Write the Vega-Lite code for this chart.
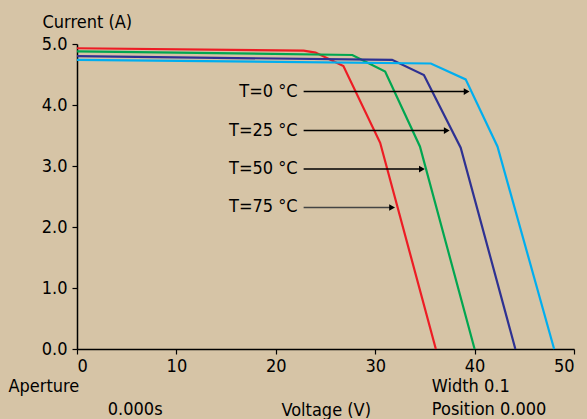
{
  "$schema": "https://vega.github.io/schema/vega-lite/v6.json",
  "width": 497,
  "height": 305,
  "autosize": "none",
  "padding": {"left": 77, "top": 44, "right": 13, "bottom": 70},
  "background": "#d6c4a6",
  "config": {
    "view": {"stroke": null},
    "font": "DejaVu Sans Condensed",
    "axis": {"domainColor": "#000", "tickColor": "#000", "domainWidth": 1.5, "tickWidth": 1.2, "tickSize": 5, "labelColor": "#000", "labelFontSize": 18, "titleFontSize": 18, "titleFontWeight": "normal", "titleColor": "#000", "grid": false, "labelFont": "DejaVu Sans Condensed", "titleFont": "DejaVu Sans Condensed"}
  },
  "datasets": {
    "curves": [
      {"T": "T=75 °C", "V": 0, "I": 4.93}, {"T": "T=75 °C", "V": 22.8, "I": 4.89}, {"T": "T=75 °C", "V": 24.0, "I": 4.86}, {"T": "T=75 °C", "V": 26.8, "I": 4.64}, {"T": "T=75 °C", "V": 30.5, "I": 3.38}, {"T": "T=75 °C", "V": 36.1, "I": 0},
      {"T": "T=50 °C", "V": 0, "I": 4.88}, {"T": "T=50 °C", "V": 27.7, "I": 4.82}, {"T": "T=50 °C", "V": 31.0, "I": 4.55}, {"T": "T=50 °C", "V": 34.5, "I": 3.32}, {"T": "T=50 °C", "V": 40.0, "I": 0},
      {"T": "T=25 °C", "V": 0, "I": 4.80}, {"T": "T=25 °C", "V": 31.7, "I": 4.74}, {"T": "T=25 °C", "V": 34.9, "I": 4.49}, {"T": "T=25 °C", "V": 38.6, "I": 3.30}, {"T": "T=25 °C", "V": 44.1, "I": 0},
      {"T": "T=0 °C", "V": 0, "I": 4.74}, {"T": "T=0 °C", "V": 35.6, "I": 4.68}, {"T": "T=0 °C", "V": 39.1, "I": 4.42}, {"T": "T=0 °C", "V": 42.3, "I": 3.32}, {"T": "T=0 °C", "V": 48.0, "I": 0}
    ],
    "notes": [
      {"label": "T=0 °C", "I": 4.22, "x0": 22.8, "x1": 39.2, "tx": 22.2},
      {"label": "T=25 °C", "I": 3.58, "x0": 22.8, "x1": 37.2, "tx": 22.2},
      {"label": "T=50 °C", "I": 2.95, "x0": 22.8, "x1": 34.7, "tx": 22.2},
      {"label": "T=75 °C", "I": 2.32, "x0": 22.8, "x1": 31.7, "tx": 22.2}
    ],
    "footer": [
      {"text": "Aperture", "V": -6.9, "I": -0.62},
      {"text": "Width 0.1", "V": 35.7, "I": -0.62},
      {"text": "0.000s", "V": 3.1, "I": -1.0},
      {"text": "Position 0.000", "V": 35.7, "I": -1.0}
    ]
  },
  "layer": [
    {
      "data": {"name": "curves"},
      "mark": {"type": "line", "strokeWidth": 2.2, "clip": false},
      "encoding": {
        "x": {"field": "V", "type": "quantitative", "scale": {"domain": [0, 50], "nice": false}, "axis": {"values": [0, 10, 20, 30, 40, 50], "title": "Voltage (V)", "titleAlign": "left", "titleAnchor": "start", "titleX": 204, "titleY": 61, "titleBaseline": "middle", "labelPadding": 3}},
        "y": {"field": "I", "type": "quantitative", "scale": {"domain": [0, 5], "nice": false}, "axis": {"values": [0, 1, 2, 3, 4, 5], "format": ".1f", "title": "Current (A)", "titleAngle": 0, "titleAlign": "left", "titleAnchor": "start", "titleX": -35, "titleY": -17, "titleBaseline": "alphabetic", "labelPadding": 5}},
        "color": {"field": "T", "type": "nominal", "scale": {"domain": ["T=75 °C", "T=50 °C", "T=25 °C", "T=0 °C"], "range": ["#ed1c24", "#00a650", "#2e3192", "#00aeef"]}, "legend": null},
        "order": {"field": "V", "type": "quantitative"}
      }
    },
    {
      "data": {"name": "notes"},
      "mark": {"type": "rule", "strokeWidth": 1.5},
      "encoding": {
        "x": {"field": "x0", "type": "quantitative"},
        "x2": {"field": "x1"},
        "y": {"field": "I", "type": "quantitative"},
        "color": {"condition": {"test": "datum.label === 'T=75 °C'", "value": "#444444"}, "value": "#000000"}
      }
    },
    {
      "data": {"name": "notes"},
      "mark": {"type": "point", "shape": "triangle-right", "filled": true, "size": 45, "opacity": 1},
      "encoding": {
        "x": {"field": "x1", "type": "quantitative"},
        "y": {"field": "I", "type": "quantitative"},
        "color": {"value": "#000000"}
      }
    },
    {
      "data": {"name": "notes"},
      "mark": {"type": "text", "align": "right", "baseline": "middle", "fontSize": 18, "font": "DejaVu Sans Condensed", "color": "#000"},
      "encoding": {
        "x": {"field": "tx", "type": "quantitative"},
        "y": {"field": "I", "type": "quantitative"},
        "text": {"field": "label"}
      }
    },
    {
      "data": {"name": "footer"},
      "mark": {"type": "text", "align": "left", "baseline": "middle", "fontSize": 18, "font": "DejaVu Sans Condensed", "color": "#000", "clip": false},
      "encoding": {
        "x": {"field": "V", "type": "quantitative"},
        "y": {"field": "I", "type": "quantitative"},
        "text": {"field": "text"}
      }
    }
  ]
}
